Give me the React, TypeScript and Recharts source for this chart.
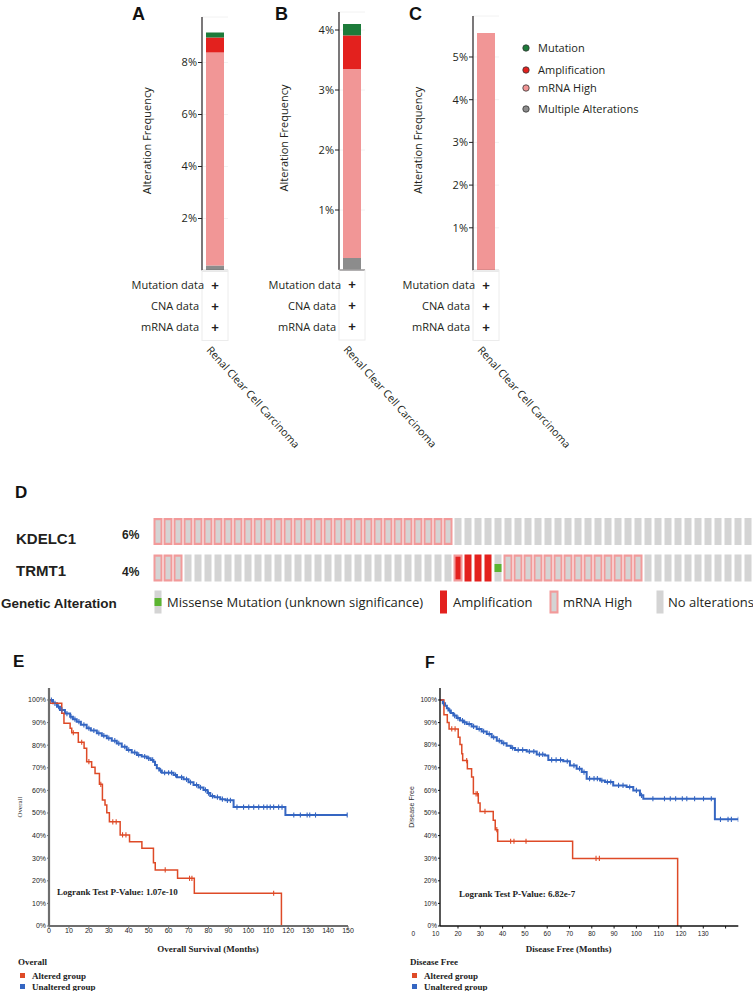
import React from "react";
import {
  Bar,
  BarChart,
  CartesianGrid,
  ComposedChart,
  Line,
  Scatter,
  ScatterChart,
  XAxis,
  YAxis,
} from "recharts";

// ---------- A-C: alteration frequency ----------
const cancerTypes = ["Renal Clear Cell Carcinoma"];
// stacking order, bottom to top
const alterationTypes = ["Multiple Alterations", "mRNA High", "Amplification", "Mutation"];
const alterationColors = ["#8c8c8c", "#f19696", "#e3211e", "#1d7b3a"];
const freqA = [0.19, 8.19, 0.58, 0.19];
const freqB = [0.2, 3.15, 0.56, 0.19];
const freqC = [0, 5.56, 0, 0];
const ticksA = [2, 4, 6, 8];
const ticksB = [1, 2, 3, 4];
const ticksC = [1, 2, 3, 4, 5];
const dataTypes = ["Mutation data", "CNA data", "mRNA data"];

// ---------- D: oncoprint ----------
const genes = ["KDELC1", "TRMT1"];
const geneAltPct = ["6%", "4%"];
// H = mRNA high, A = amplification, B = amplification + mRNA high, M = missense, N = no alteration
const kdelc1Track =
  "HHHHHHHHHHHHHHHHHHHHHHHHHHHHHH" + "NNNNNNNNNNNNNNNNNNNNNNNNNNNNNN";
const trmt1Track =
  "HHH" + "NNNNNNNNNNNNNNNNNNNNNNNNNNN" + "BAAAM" + "HHHHHHHHHHHHHH" + "NNNNNNNNNNN";
const oncoLegendLabels = ["Missense Mutation (unknown significance)", "Amplification", "mRNA High", "No alterations"];
const oncoLegendCodes = ["M", "A", "H", "N"];

// ---------- E: overall survival ----------
const osAlteredMonths = [0, 0.5, 6.4, 7.5, 10.6, 11.4, 14.7, 17.6, 18.9, 21.4, 23.1, 25.3, 26.8, 28.1, 29.0, 30.3, 35.7, 40.4, 46.6, 52.4, 53.3, 64.5, 72.9, 116.6];
const osAlteredSurv = [100, 98.5, 94.1, 89.7, 87.5, 85.5, 81.3, 78.6, 72.7, 70.2, 67.5, 62.7, 55.8, 53.5, 50.1, 46.1, 40.3, 37.3, 34.4, 28.0, 24.8, 21.1, 14.5, 0];
const osAlteredCensorMonths = [12.2, 16.4, 20.0, 26.0, 32.0, 33.7, 36.9, 38.6, 58.3, 70.5, 71.7, 112.7];
const osAlteredCensorSurv = [85.5, 81.3, 72.7, 62.7, 46.1, 46.1, 40.3, 40.3, 24.8, 21.1, 21.1, 14.5];
const osUnalteredMonths = [0, 2, 4, 5.5, 8, 10.6, 12, 13.9, 16, 18.9, 21, 24, 26.5, 29, 31.5, 34, 36.5, 39, 41.5, 44.1, 46.5, 49.1, 51, 52.4, 53.2, 54.1, 55.3, 56.6, 62.5, 64.2, 67.5, 70, 72.5, 75, 77.5, 79.5, 80.9, 83, 85.9, 88.5, 92.6, 118.6, 149.6];
const osUnalteredSurv = [100, 98.5, 97.0, 95.6, 94.0, 92.6, 91.5, 90.4, 89.0, 87.5, 86.5, 85.3, 84.2, 83.1, 82.0, 80.8, 79.3, 77.9, 76.8, 75.7, 75.0, 74.2, 73.5, 72.7, 71.2, 69.8, 68.8, 67.8, 66.8, 65.8, 64.9, 63.6, 62.4, 61.3, 60.2, 58.8, 57.5, 57.0, 56.1, 55.6, 52.6, 49.1, 49.1];
const osUnalteredCensorMonths = [1.2, 3, 4.8, 6.5, 9, 11, 13, 15, 17.5, 20, 22.5, 25, 27.5, 30, 33, 35, 38, 40, 43, 45, 48, 50, 52, 56, 58, 60, 61.5, 63.5, 66.5, 69, 71, 74, 76, 78.5, 80, 82, 84.5, 87, 89.5, 91, 94.3, 97.6, 100.2, 102.7, 105.2, 107.7, 109.4, 111, 112.7, 115.2, 116.9, 122.8, 126.1, 129.5, 130.8, 133.7, 149.6];
const osUnalteredCensorSurv = [100, 98.5, 97.0, 95.6, 94.0, 92.6, 91.5, 90.4, 89.0, 87.5, 86.5, 85.3, 84.2, 83.1, 82.0, 80.8, 79.3, 77.9, 76.8, 75.7, 75.0, 74.2, 73.5, 68.8, 67.8, 67.8, 67.8, 66.8, 65.8, 64.9, 63.6, 62.4, 61.3, 60.2, 58.8, 57.5, 57.0, 56.1, 55.6, 55.6, 52.6, 52.6, 52.6, 52.6, 52.6, 52.6, 52.6, 52.6, 52.6, 52.6, 52.6, 49.1, 49.1, 49.1, 49.1, 49.1, 49.1];
const osTicks = [0, 10, 20, 30, 40, 50, 60, 70, 80, 90, 100, 110, 120, 130, 140, 150];

// ---------- F: disease free survival ----------
const dfsAlteredMonths = [11.93, 13.7, 15.2, 16.0, 20.1, 20.9, 21.7, 22.1, 24.2, 26.1, 26.9, 29.1, 29.9, 35.8, 36.7, 37.8, 71.4, 118.5];
const dfsAlteredSurv = [100, 93.5, 90.0, 87.2, 83.5, 80.3, 76.2, 73.2, 69.6, 65.9, 58.5, 54.4, 50.7, 46.8, 42.6, 37.5, 29.9, 0];
const dfsAlteredCensorMonths = [17.2, 18.7, 23.9, 28.1, 28.7, 32.1, 37.4, 43.6, 45.1, 50.5, 81.9, 83.4];
const dfsAlteredCensorSurv = [87.2, 87.2, 73.2, 58.5, 58.5, 50.7, 42.6, 37.5, 37.5, 37.5, 29.9, 29.9];
const dfsUnalteredMonths = [11.93, 13.2, 14.2, 15.0, 15.7, 16.8, 17.9, 19.4, 20.9, 22.4, 23.9, 26.1, 28.4, 30.6, 32.9, 35.1, 37.4, 39.6, 41.8, 43.7, 45.6, 50.8, 55.3, 59.0, 60.5, 67.2, 70.2, 73.2, 75.5, 77.7, 83.7, 85.9, 89.6, 95.6, 98.6, 101.6, 103.1, 135.2, 145.7];
const dfsUnalteredSurv = [100, 98.6, 97.5, 96.3, 95.3, 94.2, 93.1, 92.0, 90.9, 90.1, 89.4, 88.3, 87.2, 86.1, 85.0, 83.5, 82.0, 80.9, 79.8, 78.8, 77.9, 77.2, 75.9, 75.4, 73.5, 72.9, 71.0, 69.6, 68.1, 65.2, 64.4, 63.7, 62.2, 61.5, 60.0, 57.8, 56.3, 47.2, 47.2];
const dfsUnalteredCensorMonths = [13.5, 16.3, 18.5, 20.0, 22.0, 23.0, 25.0, 27.0, 29.5, 31.5, 34.0, 36.0, 38.5, 40.5, 44.5, 47.0, 49.0, 52.0, 54.0, 56.5, 58.0, 62.0, 64.0, 66.0, 69.0, 72.0, 74.5, 76.5, 79.0, 81.0, 82.5, 84.5, 87.0, 88.5, 92.0, 94.0, 97.0, 100.0, 102.3, 107.4, 112.6, 115.2, 117.6, 120.6, 122.6, 126.1, 130.1, 133.6, 137.7, 141.1, 142.6, 145.7];
const dfsUnalteredCensorSurv = [98.6, 95.3, 93.1, 92.0, 90.9, 90.1, 89.4, 88.3, 87.2, 86.1, 85.0, 83.5, 82.0, 80.9, 78.8, 77.9, 77.9, 77.2, 77.2, 75.9, 75.9, 73.5, 73.5, 73.5, 72.9, 71.0, 69.6, 68.1, 65.2, 65.2, 65.2, 64.4, 63.7, 63.7, 62.2, 62.2, 61.5, 60.0, 57.8, 56.3, 56.3, 56.3, 56.3, 56.3, 56.3, 56.3, 56.3, 56.3, 47.2, 47.2, 47.2, 47.2];
const dfsTicks = [0, 10, 20, 30, 40, 50, 60, 70, 80, 90, 100, 110, 120, 130, 140];
const survTicks = [0, 10, 20, 30, 40, 50, 60, 70, 80, 90, 100];

const OPEN = "'Open Sans', sans-serif";
const ARIAL = "'Liberation Sans', Arial, sans-serif";
const TIMES = "'Liberation Serif', 'Times New Roman', serif";
const INK = "#231f20";
const RED = "#de4a27";
const BLUE = "#3566c2";

const zip = (months: number[], surv: number[]) => months.map((m, i) => ({ month: m, surv: surv[i] }));

function CancerTick(props: any) {
  const { x, y, payload } = props;
  const ends = [11, 16, 16];
  return (
    <g>
      <rect x={x - 13} y={y} width={26} height={70} fill="none" stroke="#ececec" />
      {dataTypes.map((t, i) => (
        <g key={t}>
          <text x={x - ends[i]} y={y + 18.5 + i * 21} textAnchor="end" fontFamily={OPEN} fontSize={11} fill={INK}>
            {t}
          </text>
          <text x={x} y={y + 19 + i * 21} textAnchor="middle" fontFamily={ARIAL} fontWeight="bold" fontSize={13} fill={INK}>
            +
          </text>
        </g>
      ))}
      <text
        x={x - 9}
        y={y + 80}
        transform={`rotate(48 ${x - 9} ${y + 80})`}
        fontFamily={OPEN}
        fontSize={10.6}
        fill={INK}
      >
        {payload.value}
      </text>
    </g>
  );
}

function FreqTitle({ viewBox }: any) {
  const cx = viewBox.x + viewBox.width - 56;
  const cy = viewBox.y + viewBox.height / 2 - 3;
  return (
    <text x={cx} y={cy} transform={`rotate(-90 ${cx} ${cy})`} textAnchor="middle" dominantBaseline="central" fontFamily={OPEN} fontSize={11} fill={INK}>
      Alteration Frequency
    </text>
  );
}

function FreqPanel({ freq, ticks, yMax, left, plotTop, baseline }: any) {
  const H = 470;
  const row: any = { cancer: cancerTypes[0] };
  alterationTypes.forEach((t, i) => (row[t] = freq[i]));
  return (
    <div style={{ position: "absolute", left, top: 0 }}>
      <BarChart width={206} height={H} data={[row]} margin={{ top: plotTop, right: 100, bottom: 0, left: 0 }} barSize={18}>
        <CartesianGrid vertical={false} stroke="#f2f2f2" />
        <XAxis
          dataKey="cancer"
          height={H - baseline}
          interval={0}
          tickLine={false}
          tickSize={0}
          tickMargin={0}
          axisLine={{ stroke: INK, strokeWidth: 1.2 }}
          tick={(p: any) => <CancerTick {...p} />}
        />
        <YAxis
          type="number"
          domain={[0, yMax]}
          allowDataOverflow
          ticks={ticks}
          interval={0}
          width={80}
          tickFormatter={(v: number) => `${v}%`}
          tickSize={4}
          tickMargin={1}
          axisLine={{ stroke: INK, strokeWidth: 1.2 }}
          tickLine={{ stroke: INK }}
          tick={{ fontFamily: OPEN, fontSize: 11, fill: INK }}
          label={{ content: (p: any) => <FreqTitle {...p} /> }}
        />
        {alterationTypes.map((t, i) => (
          <Bar key={t} dataKey={t} stackId="s" fill={alterationColors[i]} isAnimationActive={false} />
        ))}
      </BarChart>
    </div>
  );
}

function OncoCell({ cx, cy, code, h = 27 }: { cx: number; cy: number; code: string; h?: number }) {
  const top = cy - h / 2;
  const grey = "#d4d4d4";
  const pink = "#f29a9a";
  const red = "#e3211e";
  if (code === "H" || code === "B") {
    return (
      <g>
        <rect x={cx - 4.5} y={top} width={9} height={h} fill={pink} />
        <rect x={cx - 2.5} y={top + 2.2} width={5} height={h - 4.4} fill={code === "B" ? red : grey} />
      </g>
    );
  }
  if (code === "A") return <rect x={cx - 3.5} y={top} width={7} height={h} fill={red} />;
  if (code === "M") {
    return (
      <g>
        <rect x={cx - 3.5} y={top} width={7} height={h} fill={grey} />
        <rect x={cx - 3.5} y={cy - 4} width={7} height={8} fill="#5cb531" />
      </g>
    );
  }
  return <rect x={cx - 3.5} y={top} width={7} height={h} fill={grey} />;
}

function GeneTick(props: any) {
  const { y, payload } = props;
  const gi = genes.length - 1 - payload.value;
  const nameDy = [12.5, 7.7];
  const pctDy = [7.1, 7.6];
  return (
    <g>
      <text x={16} y={y + nameDy[gi]} fontFamily={ARIAL} fontWeight="bold" fontSize={15} fill={INK}>
        {genes[gi]}
      </text>
      <text x={122} y={y + pctDy[gi]} fontFamily={ARIAL} fontWeight="bold" fontSize={12} fill={INK}>
        {geneAltPct[gi]}
      </text>
    </g>
  );
}

function OncoPrint() {
  const tracks = [kdelc1Track, trmt1Track];
  const cells = genes.flatMap((g, gi) =>
    tracks[gi].split("").map((code, i) => ({ sample: i, row: genes.length - 1 - gi, code }))
  );
  return (
    <div style={{ position: "absolute", left: 0, top: 480 }}>
      <ScatterChart width={753} height={150} margin={{ top: 33.25, right: 0, bottom: 43.75, left: 0 }}>
        <XAxis type="number" dataKey="sample" domain={[-0.5, 59.5]} allowDataOverflow hide />
        <YAxis
          type="number"
          dataKey="row"
          domain={[-0.5, 1.5]}
          allowDataOverflow
          ticks={[0, 1]}
          interval={0}
          width={153}
          axisLine={false}
          tickLine={false}
          tick={(p: any) => <GeneTick {...p} />}
        />
        <Scatter
          data={cells}
          isAnimationActive={false}
          shape={(p: any) => <OncoCell cx={p.cx} cy={p.cy} code={p.payload.code} />}
        />
      </ScatterChart>
    </div>
  );
}

const censorMark = (color: string) => (p: any) => (
  <line x1={p.cx} x2={p.cx} y1={p.cy - 2.6} y2={p.cy + 2.6} stroke={color} strokeWidth={1.1} />
);

function SurvivalPanel(cfg: any) {
  const H = 351;
  const xTick = (p: any) => {
    const v = p.payload.value;
    const inside = v >= cfg.xDomain[0];
    return (
      <g>
        {inside && <line x1={p.x} x2={p.x} y1={p.y} y2={p.y + 2.5} stroke={cfg.axisColor} strokeWidth={1} />}
        {!cfg.unlabeled.includes(v) && (
          <text x={p.x} y={p.y + cfg.xTickDy} textAnchor="middle" fontFamily={ARIAL} fontSize={cfg.tickFont} fill="#222">
            {v}
          </text>
        )}
      </g>
    );
  };
  return (
    <div style={{ position: "absolute", left: cfg.left, top: 640 }}>
      <ComposedChart width={cfg.width} height={H} margin={{ top: 48, right: cfg.marginRight, bottom: 0, left: 0 }}>
        <XAxis
          type="number"
          dataKey="month"
          domain={cfg.xDomain}
          allowDataOverflow
          ticks={cfg.xTicks}
          interval={0}
          height={65}
          tickLine={false}
          tickSize={0}
          tickMargin={0}
          axisLine={{ stroke: cfg.axisColor, strokeWidth: cfg.axisWidth }}
          tick={xTick}
          label={{
            content: ({ viewBox }: any) => (
              <text
                x={viewBox.x + viewBox.width / 2 + cfg.xLabelDx}
                y={viewBox.y + 26}
                textAnchor="middle"
                fontFamily={TIMES}
                fontWeight="bold"
                fontSize={9}
                fill="#222"
              >
                {cfg.xLabel}
              </text>
            ),
          }}
        />
        <YAxis
          type="number"
          domain={[0, 105.3]}
          allowDataOverflow
          ticks={survTicks}
          interval={0}
          width={cfg.yAxisWidth}
          tickFormatter={(v: number) => `${v}%`}
          tickSize={2}
          tickMargin={1}
          axisLine={{ stroke: cfg.axisColor, strokeWidth: cfg.axisWidth }}
          tickLine={{ stroke: cfg.axisColor }}
          tick={{ fontFamily: ARIAL, fontSize: cfg.tickFont, fill: "#222" }}
          label={{
            content: ({ viewBox }: any) => {
              const cx = viewBox.x + cfg.yLabelX;
              const cy = viewBox.y + viewBox.height / 2;
              return (
                <text x={cx} y={cy} transform={`rotate(-90 ${cx} ${cy})`} textAnchor="middle" dominantBaseline="central" fontFamily={cfg.yLabelFont} fontSize={7} fill="#333">
                  {cfg.yLabel}
                </text>
              );
            },
          }}
        />
        <Line data={cfg.unaltered} dataKey="surv" type="stepAfter" stroke={BLUE} strokeWidth={2} dot={false} isAnimationActive={false} />
        <Line data={cfg.altered} dataKey="surv" type="stepAfter" stroke={RED} strokeWidth={1.5} dot={false} isAnimationActive={false} />
        <Scatter data={cfg.unalteredCensor} dataKey="surv" shape={censorMark(BLUE)} isAnimationActive={false} />
        <Scatter data={cfg.alteredCensor} dataKey="surv" shape={censorMark(RED)} isAnimationActive={false} />
      </ComposedChart>
    </div>
  );
}

function Overlay() {
  const legendOrder = [...alterationTypes].reverse();
  const legendColors = [...alterationColors].reverse();
  const legendYs = [48, 70, 88, 109];
  const oncoSwatchX = [158, 443.5, 554, 660];
  const oncoTextX = [167, 453, 563, 668];
  const letter = (t: string, x: number, y: number, fs: number) => (
    <text x={x} y={y} fontFamily={ARIAL} fontWeight="bold" fontSize={fs} fill="#111">
      {t}
    </text>
  );
  const kmLegend = (x: number, title: string) => (
    <g fontFamily={TIMES} fontWeight="bold" fontSize={9} fill="#222">
      <text x={x} y={964.5}>{title}</text>
      <rect x={x + 2} y={973} width={5} height={5} fill={RED} />
      <text x={x + 14} y={978.5}>Altered group</text>
      <rect x={x + 2} y={984} width={5} height={5} fill={BLUE} />
      <text x={x + 14} y={989.5}>Unaltered group</text>
    </g>
  );
  return (
    <svg width={753} height={991} style={{ position: "absolute", left: 0, top: 0, pointerEvents: "none" }}>
      {letter("A", 132, 20, 18)}
      {letter("B", 275, 19.5, 18)}
      {letter("C", 409, 19.5, 18)}
      {letter("D", 15, 498, 17)}
      {letter("E", 13, 667, 17)}
      {letter("F", 425, 668, 16)}
      {legendOrder.map((t, i) => (
        <g key={t}>
          <circle cx={526} cy={legendYs[i]} r={3.2} fill={legendColors[i]} stroke="#333" strokeWidth={0.8} />
          <text x={538} y={legendYs[i] + 4} fontFamily={OPEN} fontSize={11} fill={INK}>
            {t}
          </text>
        </g>
      ))}
      <text x={1} y={607.5} fontFamily={ARIAL} fontWeight="bold" fontSize={13.5} fill={INK}>
        Genetic Alteration
      </text>
      {oncoLegendLabels.map((t, i) => (
        <g key={t}>
          <OncoCell cx={oncoSwatchX[i]} cy={602} code={oncoLegendCodes[i]} h={23} />
          <text x={oncoTextX[i]} y={607} fontFamily={OPEN} fontSize={13} fill={INK}>
            {t}
          </text>
        </g>
      ))}
      <text x={57} y={895} fontFamily={TIMES} fontWeight="bold" fontSize={9} fill="#222">
        Logrank Test P-Value: 1.07e-10
      </text>
      <text x={459} y={897} fontFamily={TIMES} fontWeight="bold" fontSize={9} fill="#222">
        Logrank Test P-Value: 6.82e-7
      </text>
      {kmLegend(18, "Overall")}
      {kmLegend(410, "Disease Free")}
    </svg>
  );
}

export default function App() {
  return (
    <div style={{ position: "absolute", left: 0, top: 0, width: 753, height: 991, background: "#fff", overflow: "hidden" }}>
      <FreqPanel freq={freqA} ticks={ticksA} yMax={9.75} left={121.5} plotTop={17} baseline={270.5} />
      <FreqPanel freq={freqB} ticks={ticksB} yMax={4.3} left={259} plotTop={12} baseline={270} />
      <FreqPanel freq={freqC} ticks={ticksC} yMax={5.96} left={393} plotTop={16} baseline={270.5} />
      <OncoPrint />
      <SurvivalPanel
        left={0}
        width={370}
        yAxisWidth={49}
        marginRight={22}
        xDomain={[0, 150]}
        xTicks={osTicks}
        unlabeled={[]}
        axisColor="#6e6e6e"
        axisWidth={2.2}
        tickFont={7}
        xTickDy={6.6}
        xLabel="Overall Survival (Months)"
        xLabelDx={9.5}
        yLabel="Overall"
        yLabelX={20}
        yLabelFont={TIMES}
        altered={zip(osAlteredMonths, osAlteredSurv)}
        unaltered={zip(osUnalteredMonths, osUnalteredSurv)}
        alteredCensor={zip(osAlteredCensorMonths, osAlteredCensorSurv)}
        unalteredCensor={zip(osUnalteredCensorMonths, osUnalteredCensorSurv)}
      />
      <SurvivalPanel
        left={370}
        width={383}
        yAxisWidth={70}
        marginRight={14.7}
        xDomain={[11.93, 145.7]}
        xTicks={dfsTicks}
        unlabeled={[140]}
        axisColor="#111"
        axisWidth={1.4}
        tickFont={6.5}
        xTickDy={10}
        xLabel="Disease Free (Months)"
        xLabelDx={-20.5}
        yLabel="Disease Free"
        yLabelX={41.7}
        yLabelFont={ARIAL}
        altered={zip(dfsAlteredMonths, dfsAlteredSurv)}
        unaltered={zip(dfsUnalteredMonths, dfsUnalteredSurv)}
        alteredCensor={zip(dfsAlteredCensorMonths, dfsAlteredCensorSurv)}
        unalteredCensor={zip(dfsUnalteredCensorMonths, dfsUnalteredCensorSurv)}
      />
      <Overlay />
    </div>
  );
}
